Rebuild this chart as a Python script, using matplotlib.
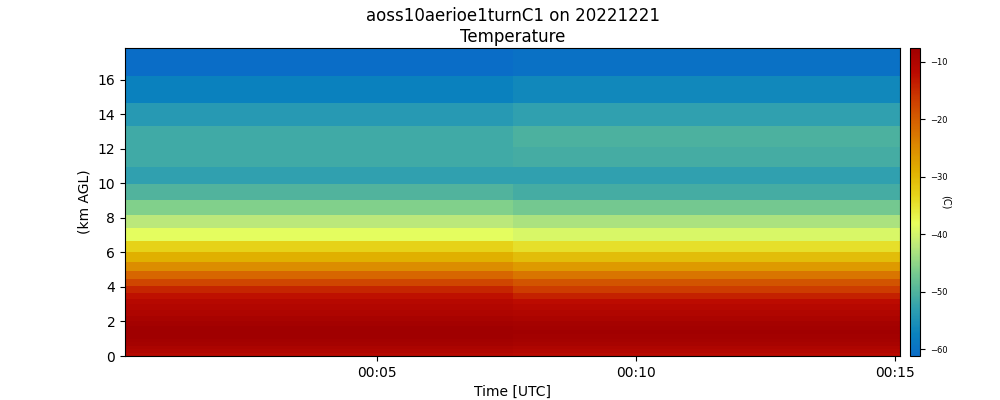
import numpy as np
import matplotlib
matplotlib.use("Agg")
import matplotlib.pyplot as plt
import matplotlib.dates as mdates
from matplotlib.colors import LinearSegmentedColormap

# sample times (UTC) of the two retrievals
times = np.array(["2022-12-21T00:03:52", "2022-12-21T00:11:21"], dtype="datetime64[s]")

# height bin edges (km AGL)
height_edges = [0.0, 0.2, 0.4, 0.6, 0.8, 1.0, 1.25, 1.5, 1.75, 2.0, 2.3, 2.65,
                3.01, 3.33, 3.66, 4.07, 4.48, 4.94, 5.47, 6.05, 6.69, 7.41,
                8.14, 9.02, 9.95, 10.95, 12.08, 13.32, 14.66, 16.19, 17.84]

# temperature (C), bottom to top, one list per retrieval
temp_first = [-11.0, -10.0, -9.3, -8.6, -8.1, -7.8, -7.6, -7.8, -8.3, -9.0, -9.8, -10.5,
              -11.0, -12.5, -14.5, -17.5, -21.0, -25.0, -29.0, -33.0, -38.5, -42.0,
              -46.0, -50.0, -53.0, -51.5, -51.5, -54.0, -57.5, -61.2]
temp_second = [-11.5, -10.5, -9.8, -9.0, -8.5, -8.1, -7.9, -8.1, -8.6, -9.3, -10.2, -11.0,
               -12.0, -14.0, -16.5, -19.0, -22.5, -26.5, -30.5, -34.5, -39.5, -43.0,
               -47.0, -51.0, -53.0, -51.0, -50.5, -53.0, -56.5, -60.5]

# colour anchors approximating the HomeyerRainbow map
cmap_colors = ["#0a6dc7", "#0a82be", "#2e9fb0", "#52b49c", "#7fcf8c", "#bde97a",
               "#e8ff5c", "#e6d51a", "#e0b000", "#dc8a00", "#d66200", "#cc3a00",
               "#bc0a00", "#a00000"]
cmap_pos = [0.0, 0.07, 0.15, 0.21, 0.28, 0.36, 0.43, 0.52, 0.60, 0.68, 0.76, 0.84, 0.92, 1.0]
cmap = LinearSegmentedColormap.from_list("homeyer", list(zip(cmap_pos, cmap_colors)))

# time edges halfway between samples, like shading='nearest'
t = times.astype("datetime64[ms]").astype("O")
half = (t[1] - t[0]) / 2
time_edges = mdates.date2num([t[0] - half, t[0] + half, t[1] + half])

data = np.array([temp_first, temp_second]).T

fig = plt.figure(figsize=(10, 4), dpi=100)
ax = fig.add_axes([0.125, 0.11, 0.775, 0.77])
mesh = ax.pcolormesh(time_edges, height_edges, data, cmap=cmap, shading="flat")
ax.set_xlim(time_edges[0], time_edges[-1])
ax.set_ylim(height_edges[0], height_edges[-1])
ax.xaxis.set_major_locator(mdates.MinuteLocator(byminute=range(0, 60, 5)))
ax.xaxis.set_major_formatter(mdates.DateFormatter("%H:%M"))
ax.set_xlabel("Time [UTC]")
ax.set_ylabel("(km AGL)")
ax.set_title("aoss10aerioe1turnC1 on 20221221\nTemperature", pad=4.5)

cax = fig.add_axes([0.91, 0.11, 0.01, 0.77])
cbar = fig.colorbar(mesh, cax=cax)
cbar.ax.tick_params(labelsize=6)
cbar.set_label("(C)", rotation=270, fontsize=7, labelpad=2)

fig.savefig("out.png", dpi=100)
